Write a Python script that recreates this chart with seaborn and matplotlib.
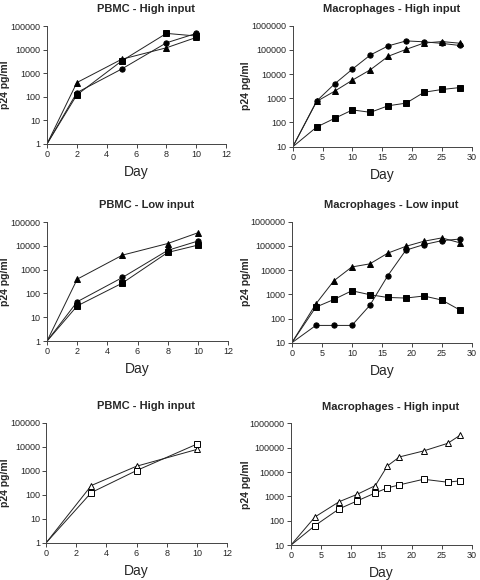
import matplotlib
matplotlib.use("Agg")
import matplotlib.pyplot as plt
import matplotlib.ticker as mticker
import pandas as pd
import seaborn as sns

sns.set_style("ticks")
plt.rcParams["font.family"] = ["Liberation Sans", "DejaVu Sans"]

# PBMC - high input (filled markers)
pbmc_days = [0, 2, 5, 8, 10]
pbmc_high_tri = [1, 400, 3900, 12000, 33000]
pbmc_high_circ = [1, 150, 1500, 19500, 49000]
pbmc_high_sq = [1, 120, 3300, 49000, 38000]

# Macrophages - high input (filled markers)
mac_days = [0, 4, 7, 10, 13, 16, 19, 22, 25, 28]
mac_high_circ = [10, 770, 3900, 16000, 61000, 145000, 232000, 213000, 183000, 150000]
mac_high_tri = [10, 740, 1950, 5600, 15000, 54000, 104000, 190000, 218000, 186000]
mac_high_sq = [10, 65, 148, 330, 263, 490, 630, 1770, 2300, 2760]

# PBMC - low input
pbmc_low_tri = [1, 400, 4100, 12600, 35600]
pbmc_low_circ = [1, 45, 470, 6500, 16000]
pbmc_low_sq = [1, 30, 275, 5300, 10800]

# Macrophages - low input
mac_low_tri = [10, 400, 3600, 13400, 18000, 50000, 95000, 154000, 212000, 133000]
mac_low_circ = [10, 52, 52, 52, 350, 5900, 66000, 112000, 163000, 190000]
mac_low_sq = [10, 295, 610, 1400, 960, 740, 700, 850, 580, 225]

# PBMC - high input (open markers)
pbmc2_days = [0, 3, 6, 10]
pbmc2_tri = [1, 245, 1560, 7800]
pbmc2_sq = [1, 125, 1030, 13000]

# Macrophages - high input (open markers)
mac2_days = [0, 4, 8, 11, 14, 16, 18, 22, 26, 28]
mac2_tri = [10, 145, 610, 1230, 2800, 18000, 42000, 74000, 152000, 320000]
mac2_sq = [10, 64, 310, 660, 1400, 2250, 3000, 5100, 3850, 4400]

panels = [
    ("PBMC - High input", [0.098, 0.752, 0.373, 0.203], pbmc_days,
     [("^", pbmc_high_tri), ("o", pbmc_high_circ), ("s", pbmc_high_sq)], False, (1, 100000), 12, 2),
    ("Macrophages - High input", [0.610, 0.747, 0.373, 0.209], mac_days,
     [("o", mac_high_circ), ("^", mac_high_tri), ("s", mac_high_sq)], False, (10, 1000000), 30, 5),
    ("PBMC - Low input", [0.098, 0.412, 0.377, 0.205], pbmc_days,
     [("^", pbmc_low_tri), ("o", pbmc_low_circ), ("s", pbmc_low_sq)], False, (1, 100000), 12, 2),
    ("Macrophages - Low input", [0.608, 0.409, 0.375, 0.209], mac_days,
     [("^", mac_low_tri), ("o", mac_low_circ), ("s", mac_low_sq)], False, (10, 1000000), 30, 5),
    ("PBMC - High input", [0.096, 0.064, 0.377, 0.207], pbmc2_days,
     [("^", pbmc2_tri), ("s", pbmc2_sq)], True, (1, 100000), 12, 2),
    ("Macrophages - High input", [0.606, 0.060, 0.377, 0.210], mac2_days,
     [("^", mac2_tri), ("s", mac2_sq)], True, (10, 1000000), 30, 5),
]

fig = plt.figure(figsize=(4.8, 5.8), dpi=100)

for i, (title, rect, days, series, hollow, ylim, xmax, xstep) in enumerate(panels):
    ax = fig.add_axes(rect)
    for marker, values in series:
        df = pd.DataFrame({"day": days, "p24": values})
        sns.lineplot(
            data=df, x="day", y="p24", ax=ax, color="#222222", linewidth=0.7,
            marker=marker, markersize=3.8,
            markerfacecolor="white" if hollow else "black",
            markeredgecolor="black", markeredgewidth=0.7,
            markevery=list(range(1, len(days))),
        )
    ax.set_yscale("log")
    ax.set_ylim(*ylim)
    ax.set_xlim(0, xmax)
    ax.set_xticks(range(0, xmax + 1, xstep))
    ax.yaxis.set_minor_locator(mticker.NullLocator())
    ax.yaxis.set_major_locator(mticker.LogLocator(base=10, numticks=10))
    ax.yaxis.set_major_formatter(mticker.FuncFormatter(lambda v, _: f"{int(round(v))}"))
    ax.tick_params(labelsize=6.5, length=3, width=0.7, pad=1.5, color="#444444")
    for s in ["left", "bottom"]:
        ax.spines[s].set_linewidth(0.7)
        ax.spines[s].set_color("#444444")
    sns.despine(ax=ax)
    ax.set_xlabel("Day", fontsize=10)
    ax.set_ylabel("p24 pg/ml", fontsize=7.5, fontweight="bold")
    label_px = 10 if i % 2 == 0 else 251
    ax.yaxis.set_label_coords((label_px / 480 - rect[0]) / rect[2], 0.5)
    ax.set_title(title, fontsize=8, fontweight="bold", x=0.55, pad=10)

plt.savefig("out.png", dpi=100)
